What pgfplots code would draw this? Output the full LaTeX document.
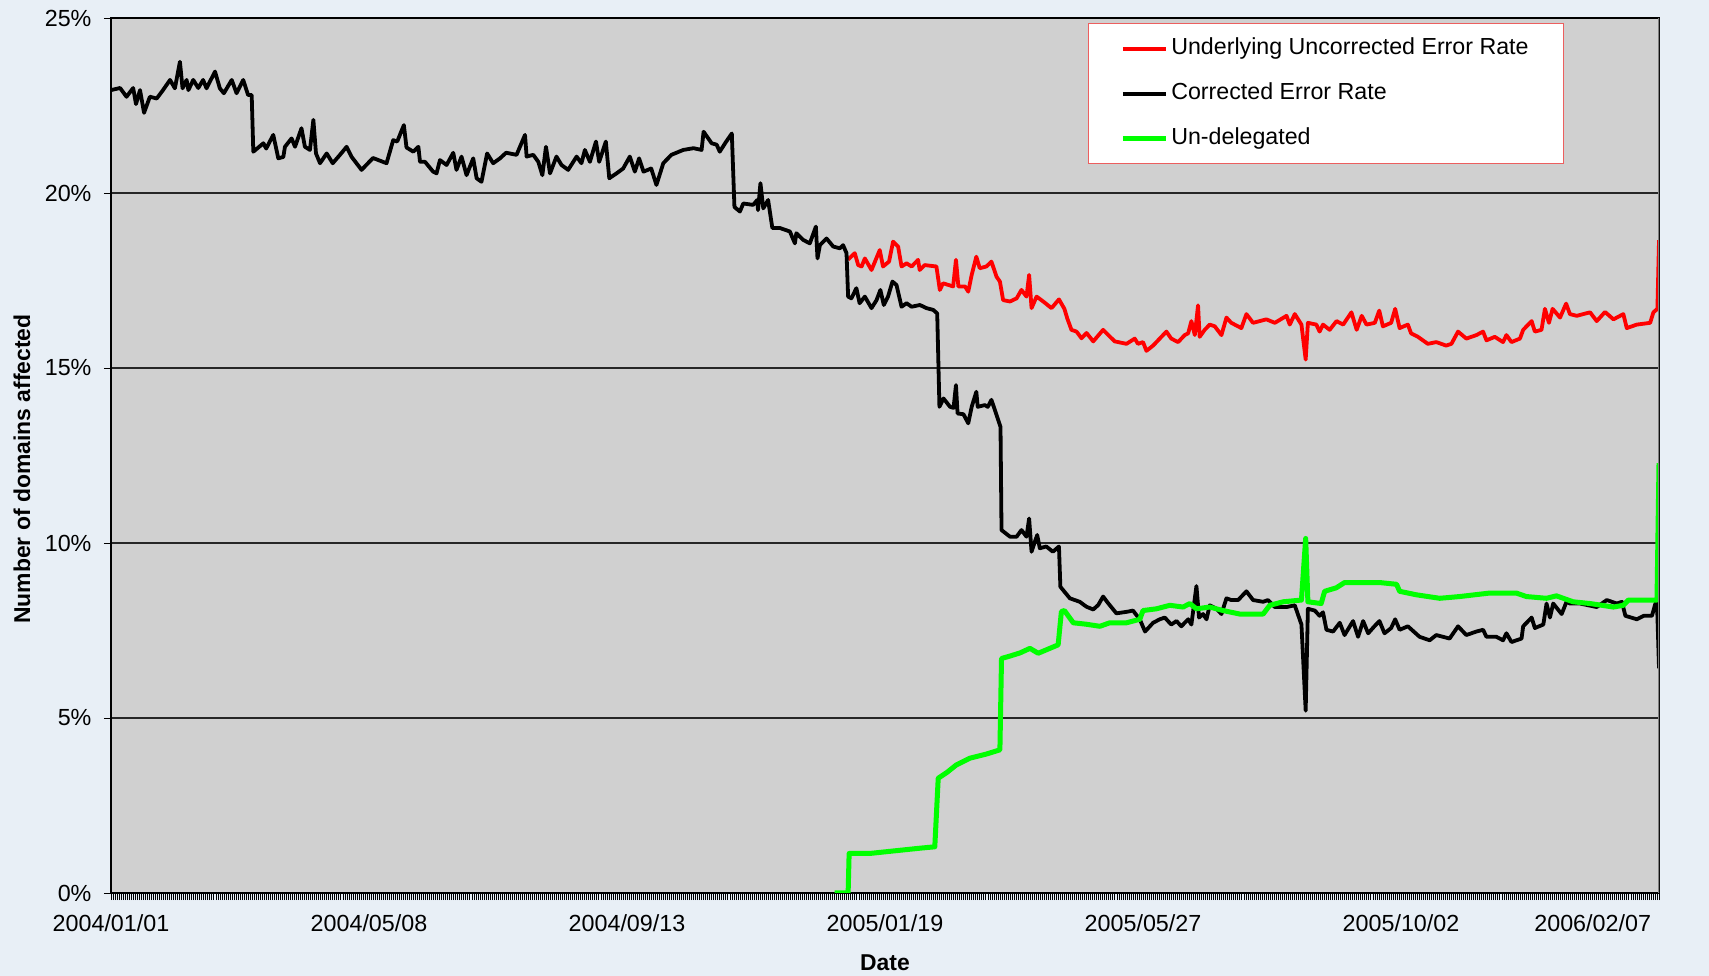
\documentclass[border=0pt]{standalone}
\usepackage{fontspec}
\setmainfont{Liberation Sans}
\usepackage{pgfplots}
\pgfplotsset{compat=1.18}
\definecolor{bgblue}{RGB}{232,239,246}
\definecolor{plotgray}{RGB}{208,208,208}
\definecolor{legred}{RGB}{236,95,95}
\definecolor{lgreen}{RGB}{0,255,0}
\begin{document}
\begin{tikzpicture}
\fill[bgblue] (0,0) rectangle (854.5bp,488bp);
\path[use as bounding box] (0,0) rectangle (854.5bp,488bp);
\begin{axis}[
  at={(55.5bp,41.5bp)}, anchor=south west,
  scale only axis, width=774bp, height=437.5bp,
  xmin=0, xmax=768, ymin=0, ymax=25,
  axis background/.style={fill=plotgray},
  xtick={0,128,...,768},
  xticklabels={2004/01/01,2004/05/08,2004/09/13,2005/01/19,2005/05/27,2005/10/02,\makebox[0pt][r]{2006/02/07\hspace{4bp}}},
  minor x tick num=127,
  ytick={0,5,...,25},
  yticklabels={0\%,5\%,10\%,15\%,20\%,25\%},
  ymajorgrids, major grid style={black!85, line width=0.6bp},
  tick align=outside, xtick pos=left, ytick pos=left,
  major tick length=3.5bp, minor tick length=3.5bp,
  tick style={black, line width=0.4bp},
  minor tick style={line width=0.3bp},
  axis line style={line width=0.8bp},
  tick label style={font=\fontsize{11.7}{13}\selectfont},
  xticklabel style={yshift=-3.8bp},
  yticklabel style={xshift=-2.75bp},
  every axis y label/.style={at={(axis description cs:-0.0575,0.4846)}, rotate=90, anchor=center, font=\bfseries\fontsize{11.5}{13}\selectfont},
  every axis x label/.style={at={(axis description cs:0.5,-0.08)}, anchor=center, font=\bfseries\fontsize{11.5}{13}\selectfont},
  xlabel={Date}, ylabel={Number of domains affected},
  legend style={at={(0.631,0.994)}, anchor=north west, draw=legred, line width=0.5bp, fill=white,
     font=\fontsize{11.65}{13}\selectfont, inner xsep=16bp, inner ysep=5.5bp, row sep=8.5bp,
     nodes={text height=8.5bp, text depth=2.5bp, inner sep=1.5bp}},
  legend cell align=left,
  legend image code/.code={\draw[#1] (0bp,0bp) -- (21.5bp,0bp);},
]
\addplot[red, line width=1.9bp, line join=round] table {
365.7 18.1
369 18.28
370.7 17.94
372.4 17.9
374 18.13
377.3 17.8
381.4 18.37
383 17.9
386 18.04
388 18.61
390.5 18.47
392.2 17.9
394.7 17.99
397.2 17.9
400.4 18.09
401.2 17.8
403.7 17.94
409.5 17.9
411.2 17.23
412.8 17.42
417.8 17.33
419.2 18.09
420.4 17.33
423.7 17.33
425.3 17.18
427 17.66
429.3 18.18
431 17.85
434.3 17.9
436.8 18.04
439.3 17.61
441 17.47
442.6 16.94
446 16.9
449.3 16.99
451.7 17.23
454.2 17.04
455.5 17.66
456.7 16.71
459.2 17.04
462.5 16.9
466.6 16.71
470.3 16.96
473 16.69
474.4 16.42
476.5 16.09
479 16.04
481.5 15.85
484 16.0
487.3 15.76
492.2 16.09
495.5 15.9
498 15.76
503.8 15.69
507.9 15.84
509.5 15.69
512 15.74
513.7 15.49
517 15.64
520.3 15.84
523.6 16.04
526 15.84
529.4 15.74
532.7 15.94
534.4 15.99
536 16.34
537.7 15.94
539.3 16.79
540.1 15.89
542.6 16.09
545.1 16.24
547.6 16.19
550.9 15.94
553.4 16.44
555.8 16.29
560.8 16.14
563.3 16.54
566.6 16.29
569.9 16.34
573.2 16.39
577.4 16.29
583.2 16.49
584.8 16.24
587.3 16.54
590.6 16.24
592.7 15.24
593.8 16.29
598 16.24
599.6 16.04
601.3 16.24
604.6 16.09
608 16.34
611.3 16.24
615.4 16.59
618 16.09
620.5 16.49
622.9 16.24
627 16.29
629.2 16.64
631 16.19
635.1 16.29
637.1 16.69
639.3 16.14
643.4 16.24
645 15.99
648.4 15.89
653.3 15.69
657.5 15.74
662.4 15.64
665 15.69
668.3 16.04
672.4 15.84
677.4 15.94
680.7 16.04
682.4 15.79
686.5 15.89
690.6 15.74
692.3 15.94
694.8 15.74
699 15.84
700.6 16.09
704.8 16.34
706.4 16.04
709.7 16.09
711.4 16.69
713.4 16.29
715.2 16.69
718.9 16.44
721.9 16.84
723.8 16.54
727.2 16.49
730.4 16.54
733.8 16.59
737.1 16.34
741.2 16.6
745.4 16.39
750.3 16.54
752 16.14
757 16.24
763.6 16.29
765.2 16.59
767.2 16.69
768 18.65
};
\addlegendentry{Underlying Uncorrected Error Rate}
\addplot[black, line width=1.9bp, line join=round] table {
0 22.94
4.5 23.0
7.7 22.75
11 23.0
12.4 22.54
14.4 22.94
16.4 22.29
19.3 22.75
22.7 22.7
25.8 22.94
29.3 23.23
31.7 22.99
34.2 23.75
35.5 22.99
37.5 23.23
38.4 22.94
40.8 23.23
43.3 23.0
45.7 23.23
47.4 22.99
51.6 23.47
54 22.99
56 22.85
59.9 23.23
62.3 22.85
65.6 23.23
68 22.8
69.8 22.8
70.6 21.18
75.6 21.42
77 21.27
80.5 21.66
83 20.99
85.5 21.03
86.3 21.32
89.6 21.56
91.3 21.32
94.5 21.85
96.2 21.32
98.7 21.23
100.4 22.09
101.7 21.13
103.7 20.85
107 21.13
110 20.85
113.6 21.09
116.9 21.32
119.4 21.03
124.3 20.66
130 21.0
136.7 20.85
140 21.51
142 21.47
145.3 21.94
146.6 21.3
150 21.18
152.5 21.32
153.3 20.89
155.8 20.89
159.8 20.61
161.5 20.56
163.2 20.94
166.5 20.8
169.8 21.15
171.4 20.66
173.9 21.04
176.4 20.51
179.7 20.99
181.4 20.42
183.8 20.32
186.6 21.13
189.6 20.85
193 20.99
196 21.15
201.2 21.09
205.4 21.66
206.2 21.04
209.5 21.09
212 20.89
214 20.51
215.8 21.32
217.8 20.56
221 21.04
223.5 20.8
226.8 20.66
231 21.04
233.4 20.85
235.1 21.23
237.6 20.89
240.6 21.47
242.2 20.89
245.5 21.47
247.2 20.42
250.8 20.56
254.1 20.70
257.4 21.04
259.9 20.61
262 20.99
264.2 20.61
268 20.70
270.6 20.23
274 20.85
278 21.09
283.9 21.23
289 21.28
293 21.23
294 21.75
298 21.42
300.5 21.38
302 21.18
305 21.45
308 21.7
309.3 19.6
312 19.47
313.7 19.7
318.6 19.66
320.6 19.8
321 19.51
322.2 20.28
323.6 19.56
326 19.8
328.1 19.0
331.8 19.0
336.8 18.9
339.3 18.56
340 18.85
343.4 18.66
346.7 18.56
349.7 19.04
350.5 18.13
351.7 18.51
355 18.7
358.3 18.47
361.6 18.42
363.2 18.51
364.9 18.28
365.7 17.04
367.3 16.99
369.8 17.28
371.4 16.85
374 17.04
377.3 16.71
379.8 16.94
381.7 17.23
383.4 16.8
385.5 17.04
387.7 17.47
389.7 17.37
392.2 16.75
394.7 16.85
397.2 16.75
401.3 16.8
404.6 16.71
407.9 16.66
409.9 16.56
411 13.89
413 14.13
416.3 13.89
418 13.86
419.2 14.51
420 13.7
422.9 13.68
425.3 13.42
427 13.89
429.3 14.32
430 13.89
433.5 13.94
435 13.89
436.8 14.09
439.3 13.66
441.3 13.32
441.8 10.37
446 10.18
449.3 10.18
451.7 10.37
454.2 10.18
455.5 10.7
456.7 9.75
459.5 10.23
460.8 9.85
464 9.9
467.3 9.75
470.3 9.9
471 8.75
473.7 8.56
475.7 8.42
480.6 8.32
483.9 8.18
487.3 8.1
489.8 8.23
492.2 8.47
494.7 8.28
498.8 7.99
504.6 8.04
507 8.07
510.4 7.82
513 7.47
517 7.72
520.3 7.82
522.8 7.87
526 7.67
528.6 7.77
531 7.62
534.4 7.82
536 7.67
538.5 8.77
539.8 7.87
541.8 7.97
543.5 7.82
545.1 8.22
548.5 8.12
550.9 7.97
553.4 8.42
555.8 8.37
559.2 8.37
563.3 8.62
566.6 8.37
571.6 8.32
574 8.37
577.4 8.17
583.2 8.17
587.3 8.22
590.6 7.67
592.7 5.21
593.8 8.12
597.2 8.07
599.6 7.92
601.3 8.02
603 7.52
606.3 7.47
609.6 7.72
612 7.37
616.2 7.77
618.7 7.32
621.2 7.77
623.7 7.42
626.8 7.62
629.3 7.77
631.8 7.42
635.1 7.57
637.1 7.82
639.3 7.52
643.4 7.62
649.2 7.32
654.2 7.22
657.5 7.37
664.1 7.27
668.3 7.62
672.4 7.37
677.4 7.47
680.7 7.52
682.4 7.32
687.3 7.32
690.6 7.22
692.3 7.42
694.8 7.17
699.8 7.27
700.6 7.62
704.8 7.87
706.4 7.57
710.6 7.67
712.2 8.27
713.9 7.87
715.5 8.27
719.7 7.97
722.1 8.32
723.8 8.27
728.8 8.27
737.1 8.17
742.1 8.37
747.1 8.27
749.6 8.32
751.3 7.92
757 7.82
760.4 7.92
764.5 7.92
766.2 8.27
767 8.3
768 6.42
};
\addlegendentry{Corrected Error Rate}
\addplot[lgreen, line width=2.5bp, line join=round] table {
359 0
365.7 0
366.2 1.13
376.5 1.13
384.7 1.18
393 1.23
401.3 1.28
408.7 1.32
410.4 3.28
414.6 3.44
419.4 3.66
426 3.85
434.3 3.97
441 4.09
441.8 6.7
446 6.77
451 6.86
455.9 6.99
460 6.85
465.8 6.99
469.9 7.09
471.5 8.04
473 8.07
477.4 7.72
483.7 7.68
490.6 7.62
495.5 7.72
503.8 7.72
510.4 7.82
512 8.07
518.7 8.12
525.3 8.22
531.9 8.17
535.2 8.27
538.5 8.12
545.1 8.17
551.7 8.07
560 7.97
571.6 7.97
574.9 8.22
581.5 8.32
590.6 8.37
592.7 10.13
593.8 8.32
600.4 8.27
602.1 8.62
607.9 8.72
612 8.87
617.8 8.87
629.4 8.87
637.8 8.82
639.3 8.62
647.6 8.52
659.2 8.42
669.1 8.47
684 8.57
697.2 8.57
702.2 8.47
712.2 8.42
717.1 8.49
725.4 8.32
733.8 8.27
745.4 8.17
750.3 8.22
752.8 8.37
763.6 8.37
767 8.37
768 12.28
};
\addlegendentry{Un-delegated}
\draw[gray, line width=0.8bp] (rel axis cs:1,0) -- (rel axis cs:1,1);
\end{axis}
\end{tikzpicture}
\end{document}
